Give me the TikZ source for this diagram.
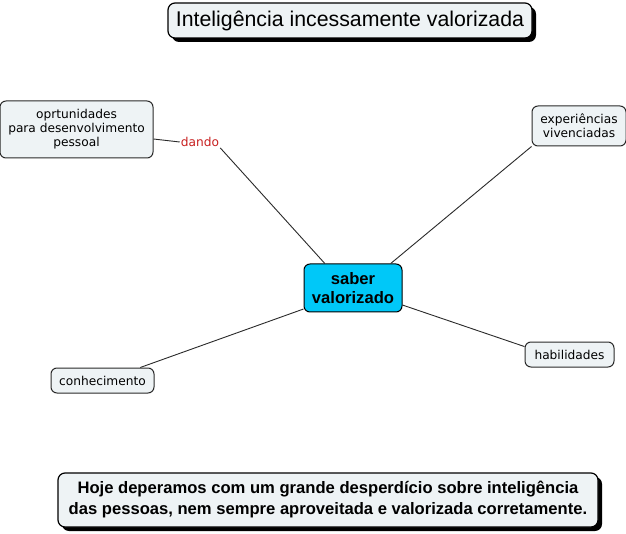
\documentclass[tikz,border=0pt]{standalone}
\usepackage{fontspec}
\setmainfont{Liberation Sans}
\newfontfamily\nodefont{DejaVu Sans}
\usetikzlibrary{positioning,shadows}
\definecolor{cmapfill}{HTML}{EEF3F5}
\definecolor{cmapline}{HTML}{2A2A2A}
\definecolor{cmapcyan}{HTML}{00C8F8}
\definecolor{cmapred}{HTML}{C82020}
\tikzset{
  cm/leaf/.style={
    draw=cmapline, line width=1pt, fill=cmapfill, rounded corners=6pt, align=center,
    inner sep=2pt, font=\nodefont\fontsize{12.2}{14}\selectfont
  },
  cm/root/.style={
    draw=black, line width=1pt, fill=cmapcyan, rounded corners=6pt, align=center,
    inner sep=2pt, font=\bfseries\fontsize{16.6}{19}\selectfont
  },
  cm/banner/.style={
    draw=black, line width=1.2pt, fill=cmapfill, rounded corners=7pt, align=center,
    inner sep=3pt, drop shadow={shadow xshift=4pt, shadow yshift=-4pt, opacity=1, fill=black}
  },
  cm/link/.style={draw=cmapline, line width=0.9pt},
  cm/label/.style={text=cmapred, font=\nodefont\fontsize{12.2}{14}\selectfont, inner sep=1pt}
}
\begin{document}
\begin{tikzpicture}[x=1pt, y=-1pt]
  \useasboundingbox[fill=white] (0,0) rectangle (626,534);

  % --- titulo ---
  \node[cm/banner, minimum width=364pt, minimum height=35pt,
    font=\fontsize{21.3}{24}\selectfont] (title) at (350,20.5) {Inteligência incessamente valorizada};

  % --- conceito central ---
  \node[cm/root, minimum width=98pt, minimum height=48pt] (saber) at (353,288) {saber\\valorizado};

  % --- conceitos ---
  \node[cm/leaf, minimum width=153pt, minimum height=57pt] (oport) at (76.5,129.5)
    {oprtunidades\\para desenvolvimento\\pessoal};
  \node[cm/leaf, minimum width=94pt, minimum height=40pt] (exper) at (579,126)
    {experiências\\vivenciadas};
  \node[cm/leaf, minimum width=89pt, minimum height=25pt] (habil) at (569.5,354.5) {habilidades};
  \node[cm/leaf, minimum width=103pt, minimum height=25pt] (conhec) at (102.5,380.5) {conhecimento};
  \node[cm/label] (dando) at (200,142) {dando};

  % --- texto final ---
  \node[cm/banner, minimum width=540pt, minimum height=54pt,
    font=\bfseries\fontsize{16.6}{21}\selectfont] (nota) at (328,500)
    {Hoje deperamos com um grande desperdício sobre inteligência\\das pessoas, nem sempre aproveitada e valorizada corretamente.};

  % --- ligacoes ---
  \draw[cm/link] (oport.east |- 0,139) -- (dando.west);
  \draw[cm/link] (dando.south east) -- (saber.139);
  \draw[cm/link] (saber.33) -- (exper.south west);
  \draw[cm/link] (saber.-19) -- (habil.170);
  \draw[cm/link] (saber.203) -- (conhec.19);
\end{tikzpicture}
\end{document}
